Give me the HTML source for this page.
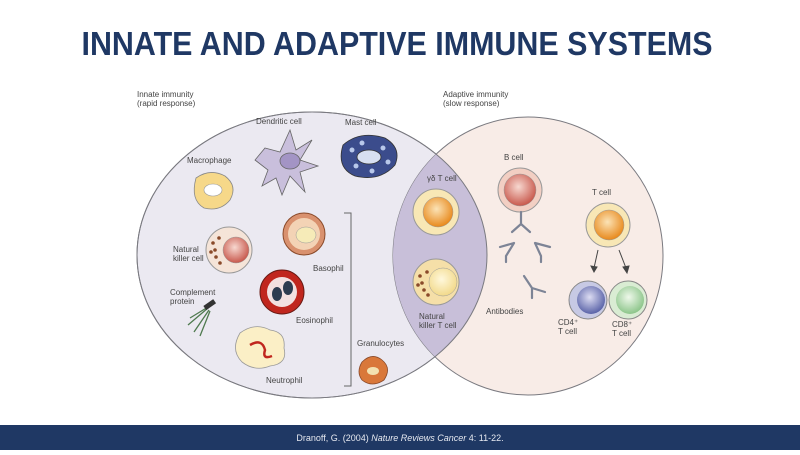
<!DOCTYPE html>
<html><head><meta charset="utf-8"><style>
html,body{margin:0;padding:0;background:#fff}
body{width:800px;height:450px;overflow:hidden;position:relative;font-family:"Liberation Sans",sans-serif}
</style></head><body>
<svg width="800" height="450" viewBox="0 0 800 450" xmlns="http://www.w3.org/2000/svg" font-family="Liberation Sans, sans-serif">
<defs>
<radialGradient id="og" cx="0.45" cy="0.4" r="0.6"><stop offset="0" stop-color="#fbe3b6"/><stop offset="1" stop-color="#e8891c"/></radialGradient>
<radialGradient id="rg" cx="0.45" cy="0.4" r="0.6"><stop offset="0" stop-color="#f7d8d0"/><stop offset="1" stop-color="#c8584c"/></radialGradient>
<radialGradient id="bg" cx="0.45" cy="0.4" r="0.6"><stop offset="0" stop-color="#dcdcf2"/><stop offset="1" stop-color="#5a63a8"/></radialGradient>
<radialGradient id="gg" cx="0.45" cy="0.4" r="0.6"><stop offset="0" stop-color="#eef8ea"/><stop offset="1" stop-color="#8cc58a"/></radialGradient>
<radialGradient id="yg" cx="0.45" cy="0.4" r="0.6"><stop offset="0" stop-color="#fff8dc"/><stop offset="1" stop-color="#f2d98a"/></radialGradient>
<clipPath id="lc"><ellipse cx="312" cy="255" rx="175" ry="143"/></clipPath>
</defs>
<text x="397" y="55" text-anchor="middle" font-size="33" font-weight="bold" fill="#1f3864" textLength="631" lengthAdjust="spacingAndGlyphs">INNATE AND ADAPTIVE IMMUNE SYSTEMS</text>

<ellipse cx="312" cy="255" rx="175" ry="143" fill="#ebe9f1" stroke="#7a7a80" stroke-width="1"/>
<ellipse cx="528" cy="256" rx="135" ry="139" fill="#f8ece7" stroke="#7a7a80" stroke-width="1"/>
<ellipse cx="528" cy="256" rx="135" ry="139" fill="#c8bfd9" clip-path="url(#lc)"/>
<ellipse cx="312" cy="255" rx="175" ry="143" fill="none" stroke="#7a7a80" stroke-width="1"/>

<g font-size="8" fill="#444">
<text x="137" y="97">Innate immunity</text><text x="137" y="106">(rapid response)</text>
<text x="443" y="97">Adaptive immunity</text><text x="443" y="106">(slow response)</text>
<text x="256" y="124">Dendritic cell</text>
<text x="345" y="125">Mast cell</text>
<text x="187" y="163">Macrophage</text>
<text x="173" y="252">Natural</text><text x="173" y="261">killer cell</text>
<text x="313" y="271">Basophil</text>
<text x="170" y="295">Complement</text><text x="170" y="304">protein</text>
<text x="296" y="323">Eosinophil</text>
<text x="266" y="383">Neutrophil</text>
<text x="357" y="346">Granulocytes</text>
<text x="427" y="181">γδ T cell</text>
<text x="419" y="319">Natural</text><text x="419" y="328">killer T cell</text>
<text x="504" y="160">B cell</text>
<text x="592" y="195">T cell</text>
<text x="486" y="314">Antibodies</text>
<text x="558" y="325">CD4⁺</text><text x="558" y="334">T cell</text>
<text x="612" y="327">CD8⁺</text><text x="612" y="336">T cell</text>
</g>

<!-- bracket -->
<path d="M344 213 H351 V386 H344" fill="none" stroke="#666" stroke-width="1"/>

<!-- dendritic -->
<g stroke="#666" stroke-width="0.8" fill="#c9bfdc">
<path d="M265 148 L280 152 L290 130 L296 150 L312 140 L300 160 L318 166 L300 172 L305 192 L290 176 L282 195 L276 178 L262 186 L268 170 L255 160 Z"/>
<ellipse cx="290" cy="161" rx="10" ry="8" fill="#a394c5"/>
</g>
<!-- mast -->
<g stroke="#333" stroke-width="0.8">
<path d="M343 145 Q360 130 385 138 Q402 148 395 165 Q380 182 355 176 Q336 168 343 145Z" fill="#3b4c8c"/>
<ellipse cx="369" cy="157" rx="12" ry="7" fill="#d7dff1"/>
<g fill="#b8c8ea" stroke="none"><circle cx="352" cy="150" r="2.5"/><circle cx="383" cy="148" r="2.5"/><circle cx="388" cy="162" r="2.5"/><circle cx="356" cy="166" r="2.5"/><circle cx="372" cy="171" r="2.5"/><circle cx="362" cy="143" r="2.5"/></g>
</g>
<!-- macrophage -->
<path d="M196 178 Q210 168 225 176 Q238 186 230 200 Q220 212 204 208 Q190 200 196 178Z" fill="#f6d889" stroke="#888" stroke-width="0.8"/>
<ellipse cx="213" cy="190" rx="9" ry="6" fill="#fff" stroke="#999" stroke-width="0.6"/>
<!-- NK cell -->
<circle cx="229" cy="250" r="23" fill="#f5e4d8" stroke="#999"/>
<circle cx="236" cy="250" r="13" fill="url(#rg)" stroke="#999" stroke-width="0.5"/>
<g fill="#8a4a2a"><circle cx="213" cy="243" r="1.8"/><circle cx="215" cy="250" r="1.8"/><circle cx="216" cy="257" r="1.8"/><circle cx="220" cy="263" r="1.8"/><circle cx="219" cy="238" r="1.8"/><circle cx="211" cy="252" r="1.8"/></g>
<!-- basophil -->
<circle cx="304" cy="234" r="21" fill="#d9916e" stroke="#8a4a2a"/>
<circle cx="304" cy="234" r="16" fill="#f3d3b5"/>
<ellipse cx="306" cy="235" rx="10" ry="8" fill="#f6ebb8" stroke="#999" stroke-width="0.5"/>
<!-- eosinophil -->
<circle cx="282" cy="292" r="22" fill="#c0261e" stroke="#6a1a14"/>
<circle cx="282" cy="292" r="15" fill="#f2e0e0"/>
<ellipse cx="277" cy="294" rx="5" ry="7" fill="#2d3c50"/><ellipse cx="288" cy="288" rx="5" ry="7" fill="#2d3c50"/>
<!-- complement -->
<g stroke="#4f7a4f" stroke-width="1.3" fill="none"><path d="M208 307 L190 318 M208 308 L188 325 M209 310 L194 332 M210 311 L200 336"/></g>
<rect x="204" y="302" width="12" height="5" fill="#333" transform="rotate(-35 210 305)"/>
<!-- neutrophil -->
<path d="M240 333 Q255 322 270 330 Q286 332 284 348 Q288 364 270 366 Q255 372 242 362 Q230 350 240 333Z" fill="#fbefc6" stroke="#999" stroke-width="0.8"/>
<path d="M250 345 Q262 338 265 350 Q262 360 272 356" fill="none" stroke="#c0261e" stroke-width="2.5"/>
<!-- granulocyte -->
<path d="M362 362 Q372 352 382 360 Q392 368 384 380 Q372 388 362 380 Q356 372 362 362Z" fill="#d9783a" stroke="#8a4a2a" stroke-width="0.8"/>
<ellipse cx="373" cy="371" rx="6" ry="4" fill="#f3e2b0"/>
<!-- γδ T cell -->
<circle cx="436" cy="212" r="23" fill="#f8e7b5" stroke="#999"/>
<circle cx="438" cy="212" r="15" fill="url(#og)" stroke="#999" stroke-width="0.5"/>
<!-- NKT -->
<circle cx="436" cy="282" r="23" fill="#f5dfa8" stroke="#999"/>
<circle cx="443" cy="282" r="14" fill="url(#yg)" stroke="#999" stroke-width="0.5"/>
<g fill="#8a4a2a"><circle cx="420" cy="276" r="1.8"/><circle cx="422" cy="283" r="1.8"/><circle cx="424" cy="290" r="1.8"/><circle cx="427" cy="272" r="1.8"/><circle cx="418" cy="285" r="1.8"/><circle cx="428" cy="295" r="1.8"/></g>
<!-- B cell -->
<circle cx="520" cy="190" r="22" fill="#f2cfc3" stroke="#999"/>
<circle cx="520" cy="190" r="16" fill="url(#rg)" stroke="#999" stroke-width="0.5"/>
<g stroke="#7d8496" stroke-width="2.2" fill="none" stroke-linecap="round">
<path d="M521 212 V224 M521 224 L512 232 M521 224 L530 232"/>
<path d="M514 243 L506 256 M514 243 L500 247 M506 256 V262"/>
<path d="M535 243 L541 256 M535 243 L550 247 M541 256 V262"/>
<path d="M524 276 L532 288 M532 288 L545 292 M532 288 V298"/>
</g>
<!-- T cell -->
<circle cx="608" cy="225" r="22" fill="#f8e7b5" stroke="#999"/>
<circle cx="609" cy="225" r="15" fill="url(#og)" stroke="#999" stroke-width="0.5"/>
<g stroke="#444" stroke-width="1" fill="#444">
<path d="M598 250 L594 268"/><path d="M591 266 L594 272 L597 267Z"/>
<path d="M619 250 L626 268"/><path d="M623 267 L627 273 L629 266Z"/>
</g>
<circle cx="588" cy="300" r="19" fill="#c7c9e4" stroke="#888"/>
<circle cx="591" cy="300" r="14" fill="url(#bg)"/>
<circle cx="628" cy="300" r="19" fill="#d9ecd3" stroke="#888"/>
<circle cx="630" cy="300" r="14" fill="url(#gg)"/>

<rect x="0" y="425" width="800" height="25" fill="#1f3864"/>
<text x="400" y="441" text-anchor="middle" font-size="9" fill="#e6e9f0">Dranoff, G. (2004) <tspan font-style="italic">Nature Reviews Cancer</tspan> 4: 11-22.</text>
</svg>
</body></html>
